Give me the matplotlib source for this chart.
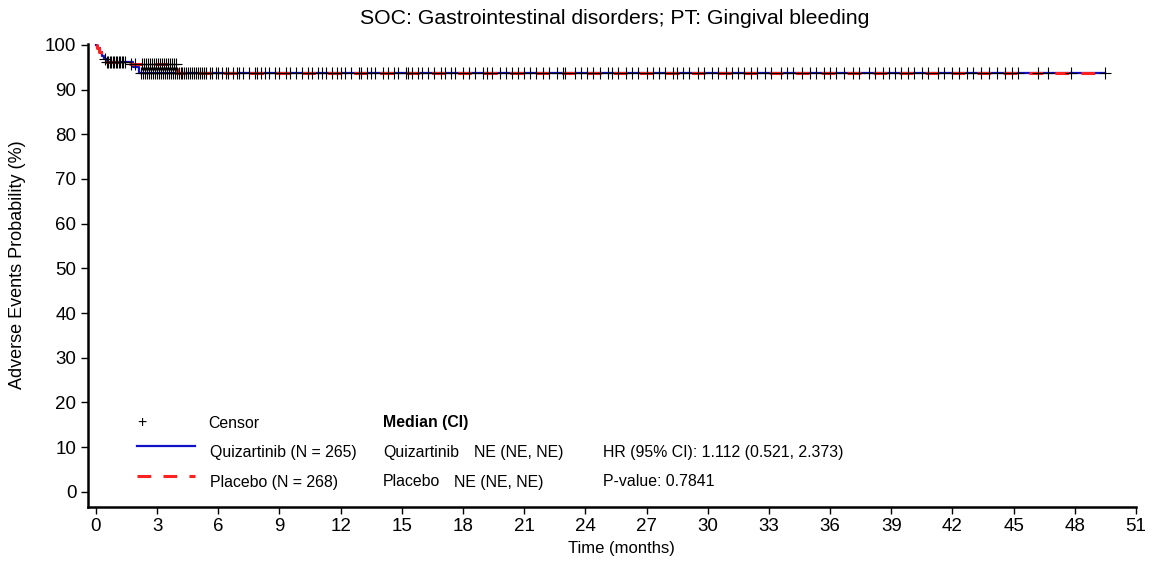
import matplotlib
matplotlib.use("Agg")
import matplotlib.pyplot as plt
from matplotlib.lines import Line2D
import numpy as np

plt.rcParams['font.family'] = ['Liberation Sans', 'DejaVu Sans']

title = "SOC: Gastrointestinal disorders; PT: Gingival bleeding"
xlabel = "Time (months)"
ylabel = "Adverse Events Probability (%)"
xticks = list(range(0, 52, 3))
yticks = list(range(0, 101, 10))

# Step curves (time of step, probability after step)
quiz_t = [0.0, 0.08, 0.18, 0.28, 0.4, 0.55, 1.8, 2.1, 49.5]
quiz_s = [100.0, 99.2, 98.4, 97.6, 96.8, 96.1, 95.0, 93.7, 93.7]
plac_t = [0.0, 0.06, 0.15, 0.25, 0.35, 0.5, 1.6, 4.0, 49.5]
plac_s = [100.0, 99.3, 98.5, 97.7, 96.9, 96.1, 95.7, 93.7, 93.7]

quiz_cens = [0.45, 0.6, 0.75, 0.9, 1.0, 1.15, 1.3, 1.45,
             2.2, 2.3, 2.4, 2.5, 2.6, 2.7, 2.8, 2.9, 3.0, 3.1, 3.2, 3.3, 3.4,
             3.5, 3.6, 3.7, 3.8, 3.9, 4.0, 4.1, 4.2, 4.3, 4.5, 4.6, 4.8, 5.0,
             5.2, 5.4, 5.7, 5.9, 6.2, 6.5, 6.9, 7.2, 7.8, 8.1, 8.5, 8.8, 9.5,
             10.1, 10.4, 10.9, 11.3, 11.8, 12.2, 12.9, 13.3, 13.7, 14.1, 14.6,
             15.2, 15.5, 16.0, 16.6, 17.1, 17.6, 18.3, 19.0, 19.4, 20.1, 20.7,
             21.3, 21.9, 22.6, 23.0, 23.8, 24.4, 25.1, 25.6, 26.3, 27.0, 27.6,
             28.3, 28.8, 29.5, 30.2, 30.9, 31.5, 32.1, 32.8, 33.6, 34.2, 35.0,
             35.7, 36.3, 37.1, 37.9, 38.6, 39.2, 39.8, 40.5, 41.3, 42.0, 42.7,
             43.4, 44.6, 45.2, 46.7, 47.8, 49.5]
plac_cens = [0.55, 0.7, 0.85, 1.05, 1.2, 1.35,
             1.7, 1.9, 2.25, 2.35, 2.45, 2.55, 2.65, 2.75, 2.85, 2.95,
             3.05, 3.15, 3.25, 3.35, 3.45, 3.55, 3.65, 3.75, 3.85, 3.95, 4.15,
             4.4, 4.7, 4.9, 5.1, 5.3, 5.6, 6.0, 6.4, 6.7, 7.0, 7.5, 7.9, 8.3,
             9.0, 9.3, 9.8, 10.6, 11.1, 11.6, 12.0, 12.5, 13.0, 13.5, 14.3,
             14.8, 15.3, 15.8, 16.3, 16.9, 17.4, 18.0, 18.6, 19.2, 19.8, 20.4,
             21.0, 21.6, 22.2, 22.9, 23.5, 24.1, 24.7, 25.3, 26.0, 26.6, 27.3,
             27.9, 28.5, 29.1, 29.8, 30.5, 31.2, 31.8, 32.4, 33.1, 33.9, 34.6,
             35.3, 36.0, 36.7, 37.4, 38.2, 38.9, 39.5, 40.1, 40.8, 41.6, 42.3,
             43.0, 43.8, 44.2, 44.9, 46.2]

W, H = 1154, 562
fig = plt.figure(figsize=(W / 100, H / 100), dpi=100)
ax = fig.add_axes([87.5 / W, 1 - 507 / H, (1136 - 87.5) / W, (507 - 43.5) / H])

def step_value(t_arr, s_arr, t):
    idx = np.searchsorted(np.asarray(t_arr), t, side='right') - 1
    return np.asarray(s_arr)[idx]

ax.step(quiz_t, quiz_s, where='post', color='#1010C8', lw=1.6, zorder=2)
ax.step(plac_t, plac_s, where='post', color='#FF2020', lw=2.2,
        linestyle=(0, (4.5, 4)), zorder=3)
ax.plot(quiz_cens, step_value(quiz_t, quiz_s, quiz_cens), linestyle='none',
        marker='+', color='black', ms=9, mew=0.8, zorder=4)
ax.plot(plac_cens, step_value(plac_t, plac_s, plac_cens), linestyle='none',
        marker='+', color='black', ms=9, mew=0.8, zorder=4)

ax.set_xlim(-0.41, 51)
ax.set_ylim(-3.4, 100.3)
ax.set_xticks(xticks)
ax.set_yticks(yticks)
ax.tick_params(labelsize=13.5, length=5, width=1, direction='out', pad=3)
for s in ['top', 'right']:
    ax.spines[s].set_visible(False)
for s in ['left', 'bottom']:
    ax.spines[s].set_linewidth(1.8)

fig.text(615 / W, 1 - 18 / H, title, ha='center', va='center', fontsize=15.3)
fig.text(621 / W, 1 - 549 / H, xlabel, ha='center', va='center', fontsize=12)
fig.text(18 / W, 1 - 265 / H, ylabel, ha='center', va='center', rotation=90,
         fontsize=13)

def fx(x):
    return x / W

def fy(y):
    return 1 - y / H

fs = 11.4
fig.text(fx(142), fy(423), "+", ha='center', va='center', fontsize=fs)
fig.text(fx(208), fy(423), "Censor", ha='left', va='center', fontsize=fs)
fig.text(fx(383), fy(423), "Median (CI)", ha='left', va='center', fontsize=fs,
         fontweight='bold')
fig.add_artist(Line2D([fx(137), fx(195)], [fy(446), fy(446)], color='#1010C8',
                      lw=1.6, transform=fig.transFigure))
fig.add_artist(Line2D([fx(137), fx(195)], [fy(476), fy(476)], color='#FF2020',
                      lw=2.2, linestyle=(0, (4.5, 4)),
                      transform=fig.transFigure))
fig.text(fx(210), fy(453), "Quizartinib (N = 265)", ha='left', va='center', fontsize=fs)
fig.text(fx(210), fy(482), "Placebo (N = 268)", ha='left', va='center', fontsize=fs)
fig.text(fx(383), fy(453), "Quizartinib", ha='left', va='center', fontsize=fs)
fig.text(fx(474), fy(453), "NE (NE, NE)", ha='left', va='center', fontsize=fs)
fig.text(fx(383), fy(482), "Placebo", ha='left', va='center', fontsize=fs)
fig.text(fx(454), fy(482), "NE (NE, NE)", ha='left', va='center', fontsize=fs)
fig.text(fx(603), fy(453), "HR (95% CI): 1.112 (0.521, 2.373)", ha='left',
         va='center', fontsize=fs)
fig.text(fx(603), fy(482), "P-value: 0.7841", ha='left', va='center', fontsize=fs)

fig.savefig("out.png", dpi=100)
